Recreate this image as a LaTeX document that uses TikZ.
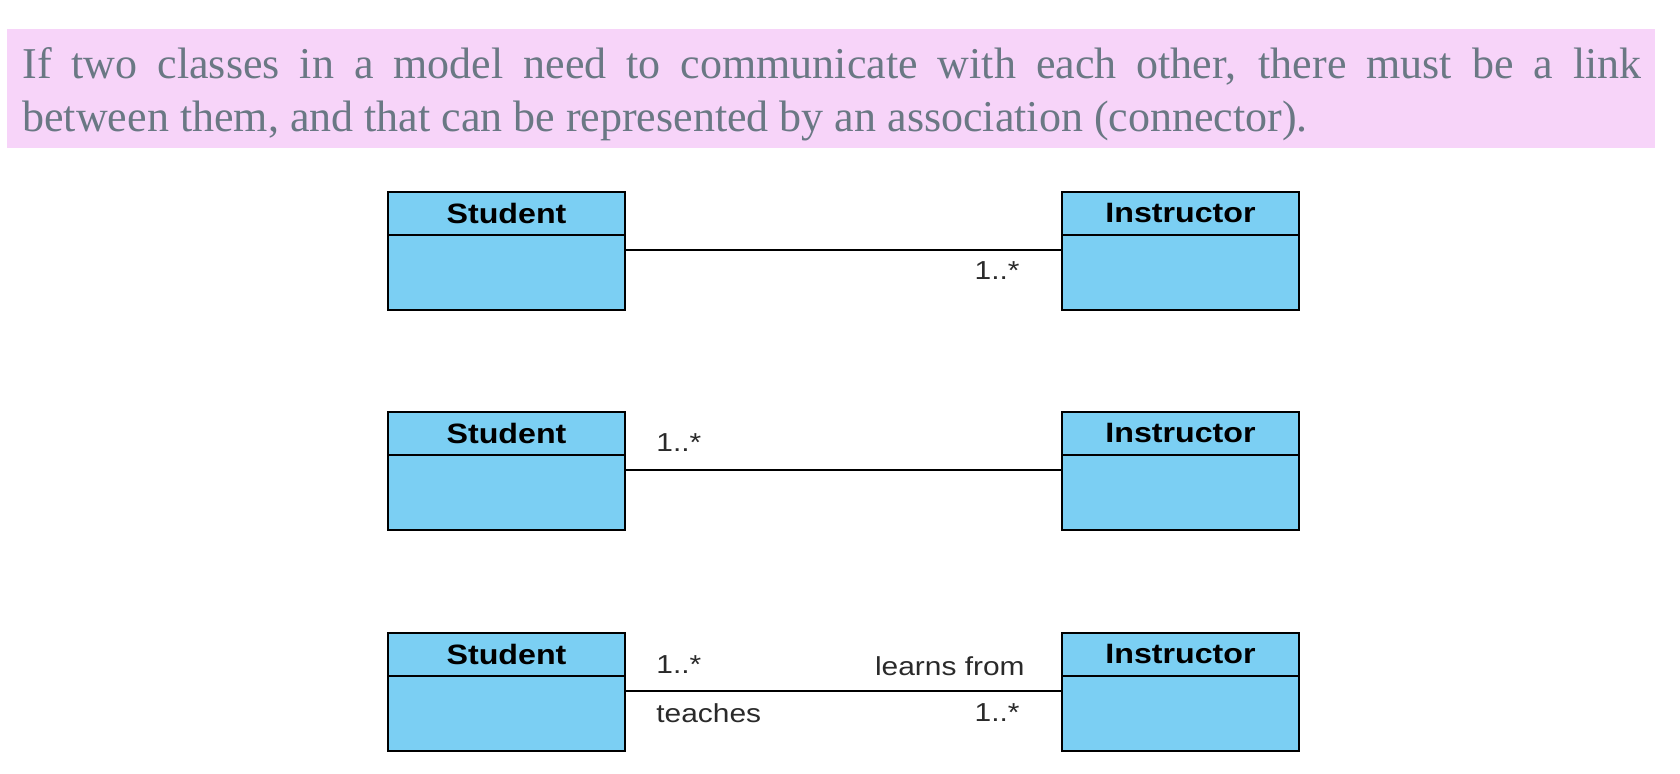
\documentclass[tikz,border=0pt]{standalone}
\usepackage{fontspec}
\setmainfont{Liberation Serif}
\newfontfamily\umlfont[FakeStretch=1.15]{Liberation Sans}
\definecolor{notepink}{HTML}{F7D4F9}
\definecolor{classblue}{HTML}{7BCFF3}
\definecolor{notegray}{HTML}{6A7884}
\definecolor{labelgray}{HTML}{2A2A2A}

\begin{document}
\begin{tikzpicture}[x=0.5pt,y=-0.5pt]
		\tikzstyle{every node}+=[inner sep=0pt]
		\tikzstyle{classhead}=[draw=black, line width=1pt, fill=classblue, minimum width=118.5pt, minimum height=21.5pt, font=\umlfont\bfseries\fontsize{14}{14}\selectfont]
		\tikzstyle{classbody}=[draw=black, line width=1pt, fill=classblue, minimum width=118.5pt, minimum height=37.5pt]
		\tikzstyle{mult}=[text=labelgray, font=\umlfont\fontsize{13}{13}\selectfont]
		\useasboundingbox (0,0) rectangle (1680,774);
		% note
		\fill [notepink] (7,29) rectangle (1655,148);
		\node [anchor=north west, text width=809.5pt, align=justify, text=notegray, font=\fontsize{22}{26.5}\selectfont] (note) at (22,47) {If two classes in a model need to communicate with each other, there must be a link\linebreak between them, and that can be represented by an association (connector).};
		% first pair
		\node [classhead] (s1head) at (506.5,213.5) {Student};
		\node [classbody] (s1body) at (506.5,272.5) {};
		\node [classhead] (i1head) at (1180.5,213.5) {Instructor};
		\node [classbody] (i1body) at (1180.5,272.5) {};
		\draw [black, line width=1.1pt] ([yshift=-8pt]s1body.north east) -- ([yshift=-8pt]i1body.north west);
		\node [mult, anchor=base east] (m1) at (1020,280) {1..*};
		% second pair
		\node [classhead] (s2head) at (506.5,433.5) {Student};
		\node [classbody] (s2body) at (506.5,492.5) {};
		\node [classhead] (i2head) at (1180.5,433.5) {Instructor};
		\node [classbody] (i2body) at (1180.5,492.5) {};
		\draw [black, line width=1.1pt] ([yshift=-8pt]s2body.north east) -- ([yshift=-8pt]i2body.north west);
		\node [mult, anchor=base west] (m2) at (656,452) {1..*};
		% third pair
		\node [classhead] (s3head) at (506.5,654.5) {Student};
		\node [classbody] (s3body) at (506.5,713.5) {};
		\node [classhead] (i3head) at (1180.5,654.5) {Instructor};
		\node [classbody] (i3body) at (1180.5,713.5) {};
		\draw [black, line width=1.1pt] ([yshift=-8pt]s3body.north east) -- ([yshift=-8pt]i3body.north west);
		\node [mult, anchor=base west] (m3a) at (656,673) {1..*};
		\node [mult, anchor=base east] (learns) at (1025,675) {learns from};
		\node [mult, anchor=base west] (teaches) at (656,722) {teaches};
		\node [mult, anchor=base east] (m3b) at (1020,721) {1..*};
\end{tikzpicture}
\end{document}
